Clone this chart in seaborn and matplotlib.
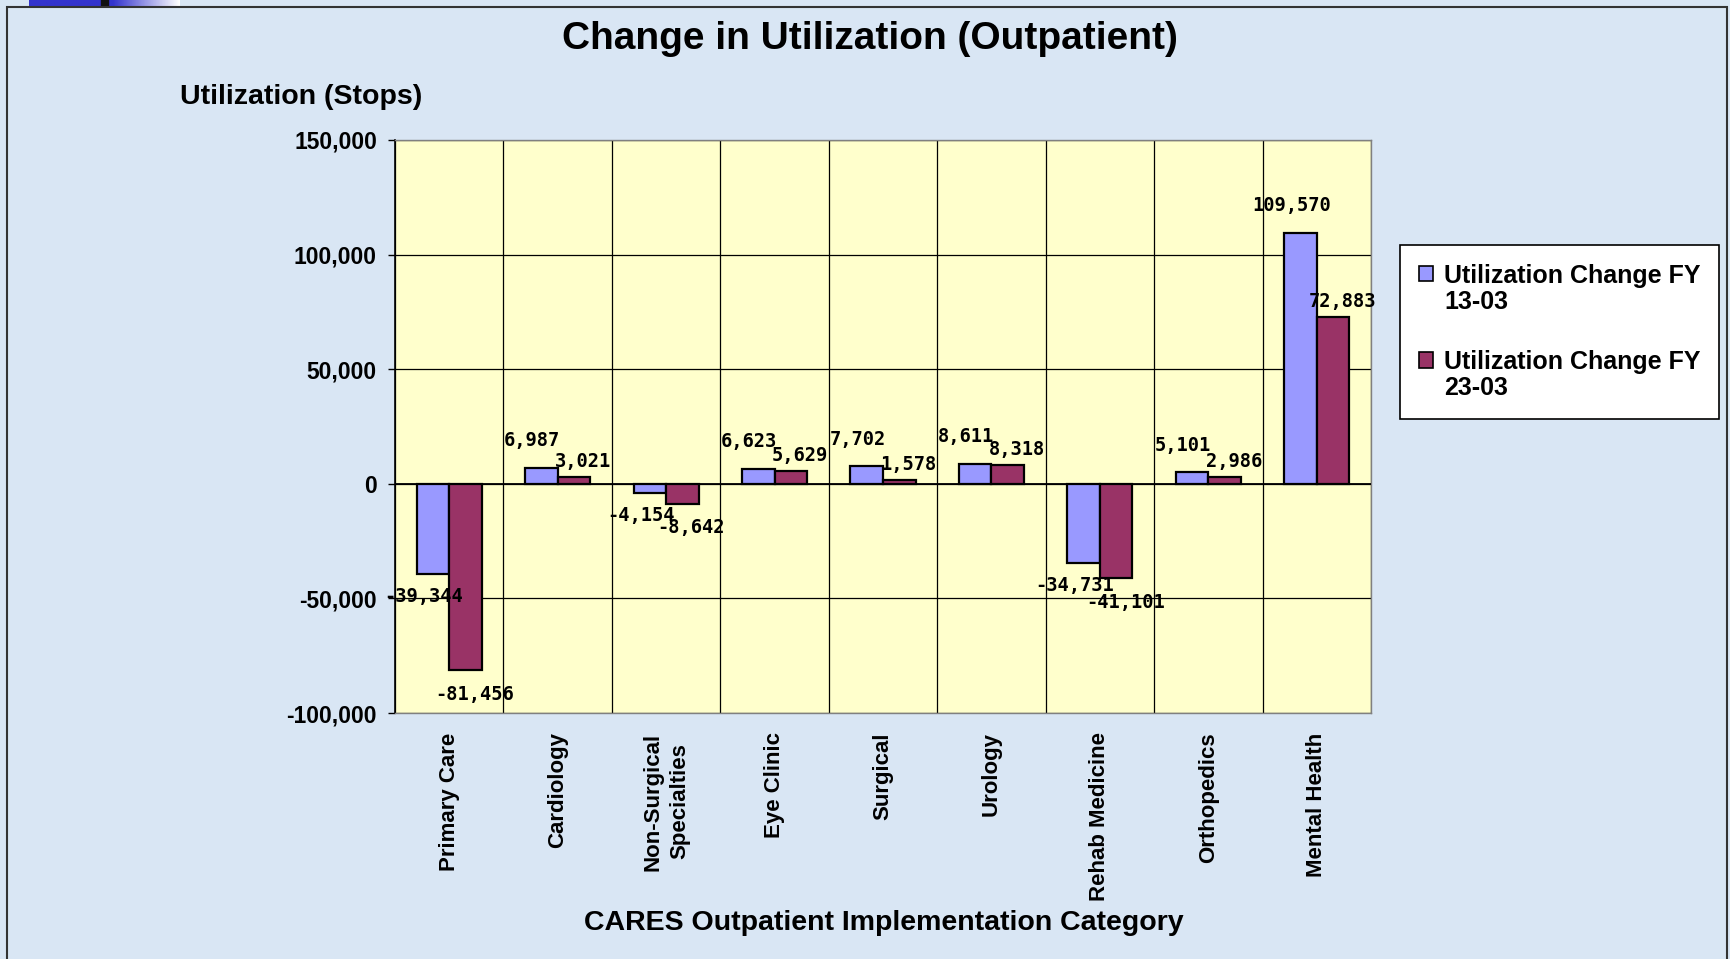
import numpy as np
import pandas as pd
import seaborn as sns
import matplotlib.pyplot as plt
from matplotlib.patches import Rectangle, Patch
from matplotlib.legend_handler import HandlerPatch

# chart data
categories = ["Primary Care", "Cardiology", "Non-Surgical\nSpecialties", "Eye Clinic",
              "Surgical", "Urology", "Rehab Medicine", "Orthopedics", "Mental Health"]
change_13_03 = [-39344, 6987, -4154, 6623, 7702, 8611, -34731, 5101, 109570]
change_23_03 = [-81456, 3021, -8642, 5629, 1578, 8318, -41101, 2986, 72883]
series_names = ["Utilization Change FY\n13-03", "Utilization Change FY\n23-03"]
series_colors = ["#9999ff", "#993366"]
y_ticks = [-100000, -50000, 0, 50000, 100000, 150000]

df = pd.DataFrame({
    "category": categories * 2,
    "series": [series_names[0]] * len(categories) + [series_names[1]] * len(categories),
    "value": change_13_03 + change_23_03,
})

sns.set_theme(style="white")
plt.rcParams["font.family"] = ["Liberation Sans", "DejaVu Sans"]
plt.rcParams["text.color"] = "black"
plt.rcParams["xtick.color"] = "black"
plt.rcParams["ytick.color"] = "black"
plt.rcParams["axes.labelcolor"] = "black"

fig = plt.figure(figsize=(17.3, 9.59), dpi=100)
fig.patch.set_facecolor("#d9e6f4")

# slide decoration: border and blue bar in top-left corner
fig.patches.append(Rectangle((7 / 1730, -0.05), 1720 / 1730, 1.05 - 7 / 959,
                             transform=fig.transFigure, fill=False,
                             edgecolor="#333333", lw=1.5, zorder=0))
deco = fig.add_axes([29 / 1730, 1 - 6 / 959, 151 / 1730, 6 / 959])
grad = np.concatenate([np.zeros(55), np.linspace(0, 1, 45)])[None, :]
deco.imshow(grad, aspect="auto", cmap=sns.blend_palette(["#3333cc", "#ffffff"], as_cmap=True))
deco.axvline(50, color="#111111", lw=6)
deco.axis("off")

ax = fig.add_axes([395 / 1730, 1 - 713 / 959, 976 / 1730, 573 / 959])
ax.set_facecolor("#ffffcc")

palette = dict(zip(series_names, series_colors))
sns.barplot(data=df, x="category", y="value", hue="series", order=categories,
            hue_order=series_names, palette=palette, width=0.6, saturation=1,
            edgecolor="black", linewidth=1.6, ax=ax, zorder=3, legend=False)

# data labels, offset like the Excel original (first series up/left, second lower/right)
label_offsets = [(-6.5, 19.5, -16), (6.5, 11, -17.5)]
for container, vals, (dx, up, down) in zip(ax.containers, [change_13_03, change_23_03], label_offsets):
    for bar, v in zip(container, vals):
        x = bar.get_x() + bar.get_width() / 2
        ax.annotate(f"{v:,}", (x, v), xytext=(dx, up if v > 0 else down),
                    textcoords="offset points", ha="center", va="center",
                    fontfamily="DejaVu Sans Mono", fontweight="bold",
                    fontsize=13.5, color="black", zorder=5)

ax.set_ylim(-100000, 150000)
ax.set_xlim(-0.5, len(categories) - 0.5)
ax.set_yticks(y_ticks)
ax.set_yticklabels([f"{v:,}" for v in y_ticks], fontweight="bold", fontsize=16.5)
ax.set_xticks(range(len(categories)))
ax.set_xticklabels(categories, rotation=90, fontweight="bold", fontsize=16,
                   va="top", ha="center", multialignment="center", linespacing=1.35)
ax.set_xticks(np.arange(-0.5, len(categories), 1), minor=True)
ax.tick_params(axis="x", which="both", length=0, pad=14)
ax.tick_params(axis="y", length=5, width=1, color="black", direction="out", pad=8, left=True)
ax.set_xlabel("")
ax.set_ylabel("")

ax.yaxis.grid(True, color="black", lw=0.9)
ax.xaxis.grid(True, which="minor", color="black", lw=0.9)
ax.xaxis.grid(False, which="major")
ax.set_axisbelow(True)
ax.axhline(0, color="black", lw=1.3, zorder=4)
for side in ["top", "right", "bottom"]:
    ax.spines[side].set_color("#808080")
    ax.spines[side].set_linewidth(1)
ax.spines["left"].set_color("black")
ax.spines["left"].set_linewidth(1.2)


# legend squares sit next to the first line of each two-line label
def top_square(legend, orig_handle, xdescent, ydescent, width, height, fontsize):
    return Rectangle((-xdescent, -ydescent + 0.62 * fontsize), width, height)


handles = [Patch(facecolor=c, edgecolor="black", linewidth=1.2) for c in series_colors]
leg = ax.legend(handles, series_names, loc="upper left",
                bbox_to_anchor=(1400 / 1730, 1 - 245 / 959),
                bbox_transform=fig.transFigure, frameon=True, fancybox=False,
                edgecolor="black", framealpha=1, facecolor="white",
                prop={"weight": "bold", "size": 18}, handlelength=0.56,
                handleheight=0.56, handletextpad=0.45, labelspacing=1.45,
                borderpad=0.75, borderaxespad=0,
                handler_map={Patch: HandlerPatch(patch_func=top_square)})
leg.get_frame().set_linewidth(1.2)
for t in leg.get_texts():
    t.set_linespacing(1.1)

fig.text(870 / 1730, 1 - 39 / 959, "Change in Utilization (Outpatient)",
         ha="center", va="center", fontsize=28, fontweight="bold")
fig.text(180 / 1730, 1 - 97 / 959, "Utilization (Stops)",
         ha="left", va="center", fontsize=20.5, fontweight="bold")
fig.text(884 / 1730, 1 - 923 / 959, "CARES Outpatient Implementation Category",
         ha="center", va="center", fontsize=20.5, fontweight="bold")

fig.savefig("out.png", dpi=100, facecolor=fig.get_facecolor())
